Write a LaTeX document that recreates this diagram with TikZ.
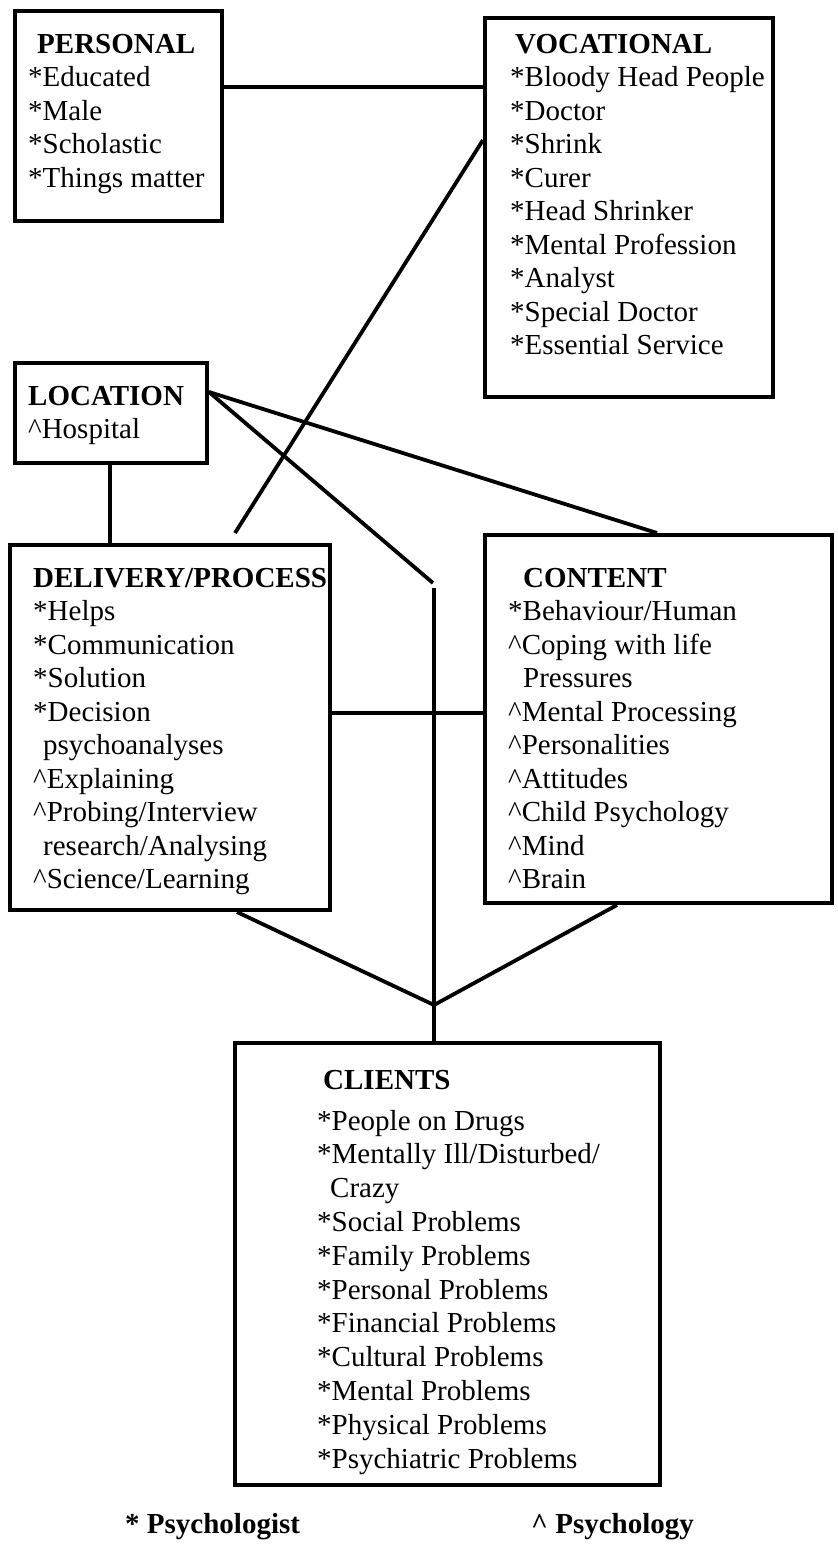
\documentclass[tikz,border=0pt]{standalone}
\usepackage{fontspec}
\setmainfont{Liberation Serif}
\begin{document}
\begin{tikzpicture}[x=1pt,y=-1pt,
  box/.style={draw, line width=4pt, rectangle, inner sep=0pt},
  conn/.style={line width=3.8pt},
  txt/.style={anchor=base west, inner sep=0pt, font=\fontsize{29}{33.5}\selectfont},
  ttl/.style={anchor=base west, inner sep=0pt, font=\fontsize{29}{33.5}\selectfont\bfseries}]
\useasboundingbox (0,0) rectangle (838,1545);

% boxes
\node[box, minimum width=207pt, minimum height=210pt] (personal) at (118.5,116) {};
\node[box, minimum width=288pt, minimum height=379pt] (vocational) at (629,207.5) {};
\node[box, minimum width=192pt, minimum height=100pt] (location) at (111,413) {};
\node[box, minimum width=320pt, minimum height=365pt] (delivery) at (170,727.5) {};
\node[box, minimum width=347pt, minimum height=368pt] (content) at (658.5,719) {};
\node[box, minimum width=425pt, minimum height=442pt] (clients) at (447.5,1264) {};

% free ends
\coordinate (dtop) at (235,533);
\coordinate (locend) at (433,583);
\coordinate (vtop) at (434,588);
\coordinate (junc) at (434,1005);

% connectors
\draw[conn] (personal.east |- 0,87) -- (vocational.west |- 0,87);
\draw[conn] (vocational.west |- 0,140) -- (dtop);
\draw[conn] (location.east |- 0,392) -- (locend);
\draw[conn] (location.east |- 0,392) -- (content.north -| 657,0);
\draw[conn] (vtop) -- (clients.north -| 434,0);
\draw[conn] (location.south -| 110,0) -- (delivery.north -| 110,0);
\draw[conn] (delivery.east |- 0,713) -- (content.west |- 0,713);
\draw[conn] (delivery.south -| 237,0) -- (junc);
\draw[conn] (content.south -| 617,0) -- (junc);

% PERSONAL
\node[ttl] (perT) at (37,53) {PERSONAL};
\foreach[count=\i] \t in {*Educated,*Male,*Scholastic,*Things matter}
  \node[txt] (per\i) at (28,{53+33.5*\i}) {\t};

% VOCATIONAL
\node[ttl] (vocT) at (515,53) {VOCATIONAL};
\foreach[count=\i] \t in {*Bloody Head People,*Doctor,*Shrink,*Curer,*Head Shrinker,*Mental Profession,*Analyst,*Special Doctor,*Essential Service}
  \node[txt] (voc\i) at (510,{53+33.5*\i}) {\t};

% LOCATION
\node[ttl] (locT) at (28,405) {LOCATION};
\node[txt] (loc1) at (28,438) {\textasciicircum Hospital};

% DELIVERY/PROCESS
\node[ttl] (delT) at (33,587) {DELIVERY/PROCESS};
\foreach[count=\i] \t/\x in {{*Helps}/33,{*Communication}/33,{*Solution}/33,{*Decision}/33,{psychoanalyses}/43,{\textasciicircum Explaining}/33,{\textasciicircum Probing/Interview}/33,{research/Analysing}/43,{\textasciicircum Science/Learning}/33}
  \node[txt] (del\i) at (\x,{587+33.5*\i}) {\t};

% CONTENT
\node[ttl] (conT) at (523,587) {CONTENT};
\foreach[count=\i] \t/\x in {{*Behaviour/Human}/508,{\textasciicircum Coping with life}/508,{Pressures}/523,{\textasciicircum Mental Processing}/508,{\textasciicircum Personalities}/508,{\textasciicircum Attitudes}/508,{\textasciicircum Child Psychology}/508,{\textasciicircum Mind}/508,{\textasciicircum Brain}/508}
  \node[txt] (con\i) at (\x,{587+33.5*\i}) {\t};

% CLIENTS
\node[ttl] (cliT) at (323,1089) {CLIENTS};
\foreach[count=\i] \t/\x in {{*People on Drugs}/317,{*Mentally Ill/Disturbed/}/317,{Crazy}/330,{*Social Problems}/317,{*Family Problems}/317,{*Personal Problems}/317,{*Financial Problems}/317,{*Cultural Problems}/317,{*Mental Problems}/317,{*Physical Problems}/317,{*Psychiatric Problems}/317}
  \node[txt] (cli\i) at (\x,{1096.2+33.8*\i}) {\t};

% legend
\node[ttl] (leg1) at (125,1533) {* Psychologist};
\node[ttl] (leg2) at (531,1533) {\textasciicircum\ Psychology};
\end{tikzpicture}
\end{document}
